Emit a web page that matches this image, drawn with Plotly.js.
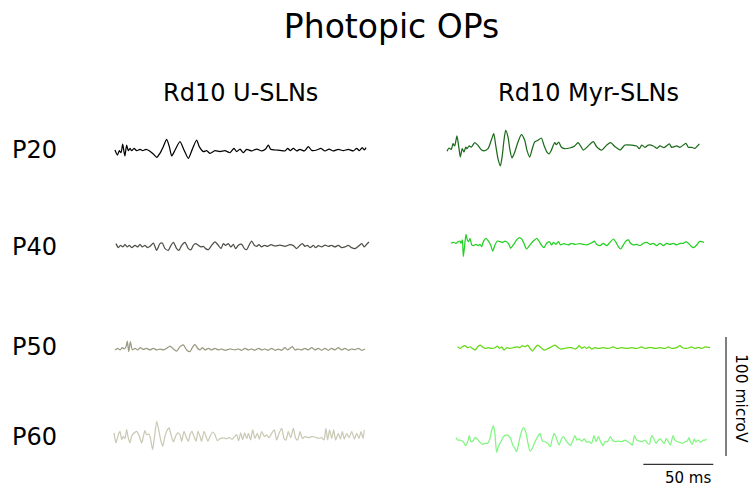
<!DOCTYPE html>
<html>
<head>
<meta charset="utf-8">
<script src="https://cdn.plot.ly/plotly-3.0.1.min.js"></script>
<style>
  html, body { margin: 0; padding: 0; background: #ffffff; }
  #chart { width: 753px; height: 487px; }
</style>
</head>
<body>
<div id="chart"></div>
<script>
// Oscillatory potentials: [time (ms), amplitude (microV)] for each age and treatment group.
const groupNames = ['Rd10 U-SLNs', 'Rd10 Myr-SLNs'];
const ageLabels = ['P20', 'P40', 'P50', 'P60'];

const uslnP20 = [[0,0],[1.7,-4.2],[3.1,-0.6],[4.3,-2.3],[5.5,5.0],[6.4,-1.4],[7.1,-5.0],[8.3,4.2],[9.5,-0.6],[10.7,1.4],[11.9,-0.6],[13.6,1.4],[15.5,-0.6],[17.9,0.6],[19.8,-0.6],[22.1,0.6],[24.5,-0.6],[27.4,-3.4],[29.8,-6.2],[32.1,-2.8],[34.5,2.8],[36.9,9.0],[38.8,2.8],[40.5,-5.0],[42.9,0],[46.4,7.0],[49.3,0],[52.4,-7.0],[55.5,1.4],[58.3,8.4],[60.2,2.8],[63.1,-1.4],[65.5,-0.6],[67.9,-2.8],[71.4,-0.6],[75,-1.4],[78.6,-0.6],[82.1,-2.3],[85,1.4],[86.9,-1.4],[89.3,0.8],[91.6,-2.3],[94,0.6],[97.6,-0.8],[101.2,0.8],[104.8,-0.8],[107.6,0.8],[109.5,4.2],[111.2,0.6],[114.3,0],[117.9,-0.3],[121.4,-0.8],[123.4,1.4],[125.2,-0.6],[127.4,1.4],[129.8,-0.8],[132.1,0.6],[135.2,-0.8],[138.1,2.8],[140.5,-0.3],[144.1,0],[147.1,1.4],[150,-0.8],[152.9,0.8],[155.9,-0.8],[159.5,0.6],[163.1,-0.6],[166.6,0.6],[170.2,-0.8],[172.6,1.4],[174.5,-0.6],[176.6,2.0],[178.1,0],[179.3,2.0]];

const uslnP40 = [[0,2.0],[1.7,-1.4],[3.3,0.6],[4.8,-0.8],[6.4,1.1],[8.1,-0.8],[9.5,0.6],[11.2,-1.4],[13.6,0.6],[15.5,-0.8],[17.1,1.4],[18.8,-0.8],[20.7,0.6],[22.6,-1.4],[24.3,-0.3],[26.7,2.5],[29.0,-3.6],[31.4,2.0],[33.1,2.5],[35.0,-2.2],[37.4,-3.6],[39.3,0.6],[41.0,3.1],[43.3,-2.2],[45.0,-3.6],[46.9,0.6],[49.3,3.1],[51.7,-2.2],[53.6,-3.1],[55.2,0.6],[56.9,2.0],[58.8,0.6],[60.7,-0.8],[62.4,-0.3],[64.0,-2.2],[66.0,-3.1],[68.3,0.6],[70.7,3.4],[73.1,0.6],[75.0,-2.2],[76.7,2.0],[78.3,0.6],[80.2,2.0],[82.1,-0.8],[83.8,1.4],[85.5,-2.2],[87.4,0.6],[89.8,1.4],[91.7,-2.2],[93.3,-3.1],[95.0,0.6],[96.9,4.2],[98.8,0.6],[100.5,-0.3],[102.1,1.1],[104.0,-0.8],[106.0,0.6],[108.3,-0.3],[110.7,1.1],[113.6,0],[117.1,0.8],[120.7,-0.3],[124.3,1.1],[126.7,0.3],[129.0,-2.2],[131.4,0.6],[133.1,2.0],[135.0,-0.3],[136.7,0.6],[138.6,-1.4],[141.0,0.6],[142.6,-1.4],[144.5,0.3],[146.9,-0.8],[149.3,0.8],[151.7,-0.3],[154.0,0.6],[156.4,-0.8],[158.8,0.6],[161.2,-1.4],[163.6,-0.8],[166.0,0.6],[168.3,-1.4],[170.7,-2.2],[173.1,-0.3],[175.5,2.0],[177.4,-0.8],[179.0,1.4],[180.7,3.4]];

const uslnP50 = [[0,-0.8],[1.9,0.6],[3.6,-0.8],[5.2,1.1],[6.7,0],[7.9,2.0],[8.8,6.7],[9.8,-2.2],[11.0,6.2],[12.4,-0.8],[14.3,0.6],[16.2,-0.8],[17.9,1.1],[20.2,-0.3],[22.6,0.6],[25.0,-0.8],[27.4,0.6],[29.8,-0.8],[32.1,0],[34.5,-0.8],[36.9,0.6],[39.3,2.5],[41.7,0],[44.0,-1.7],[46.4,2.0],[48.8,3.4],[51.2,-0.8],[53.6,-2.2],[55.2,1.1],[57.1,3.9],[59.0,0.6],[60.7,-0.8],[62.4,1.1],[64.3,-0.8],[66.7,0.6],[69.0,-0.8],[71.4,0.6],[73.8,-0.8],[76.2,0],[78.6,-1.1],[82.1,0],[85.7,-0.8],[88.1,0],[90.5,-1.1],[92.9,0.6],[95.2,-0.8],[97.6,0],[100.0,-1.1],[102.4,0.6],[104.8,-0.8],[107.1,0],[109.5,-1.1],[111.9,0.6],[114.3,-1.1],[116.7,0],[119.0,-1.1],[121.4,1.1],[123.3,-0.8],[125.0,0.6],[126.7,2.0],[128.6,-0.8],[131.0,0],[133.3,-0.8],[135.7,0.6],[138.1,-0.8],[140.5,1.1],[142.9,-0.8],[145.2,0.6],[147.6,-1.1],[150.0,0.6],[152.4,-1.1],[154.8,0.6],[157.1,-0.8],[159.5,1.1],[161.9,-0.8],[164.3,0.6],[166.7,-1.1],[169.0,0],[171.4,-0.6],[173.8,0.6],[176.2,-1.1],[178.6,0]];

const uslnP60 = [[0,3.4],[1.4,-5.0],[3.1,2.0],[4.3,4.8],[5.5,-2.2],[6.7,0.6],[7.9,-1.4],[9.0,6.2],[10.2,-0.8],[11.4,-5.0],[12.6,0.6],[14.3,3.4],[16.2,4.8],[18.1,0.6],[19.8,-5.0],[21.0,0.6],[22.1,5.3],[23.3,2.0],[25.0,2.5],[26.2,-2.2],[27.6,-10.6],[28.8,-0.8],[30.5,13.2],[31.9,6.2],[33.3,-2.2],[34.8,-7.8],[36.4,0.6],[37.6,4.8],[39.3,7.6],[40.7,2.0],[42.4,-4.2],[44.0,0.6],[45.5,3.4],[47.1,2.0],[48.3,-3.6],[50.0,4.8],[51.4,0.6],[53.1,-3.6],[54.3,2.0],[55.7,4.8],[57.1,0.6],[58.6,-3.6],[60.0,4.8],[61.4,0.6],[62.6,-3.6],[64.3,4.8],[65.7,0.6],[67.1,-3.6],[68.6,0.6],[70.5,4.2],[72.1,2.0],[73.8,-3.1],[75.7,-1.4],[78.1,-0.8],[80.5,-1.4],[82.4,-0.3],[84.3,-2.0],[85.7,-0.3],[87.6,2.0],[89.0,-3.1],[90.5,3.4],[91.9,-2.2],[93.3,3.4],[94.8,-1.4],[96.0,3.1],[97.6,-2.5],[99.0,5.9],[100.7,-1.1],[102.4,3.1],[103.8,-1.7],[105.5,4.5],[107.4,0.3],[109.0,1.7],[110.7,-0.6],[112.6,3.1],[114.5,5.9],[116.2,-2.5],[117.9,3.1],[119.8,7.3],[121.4,-1.1],[122.9,-2.5],[124.5,4.5],[126.2,-0.6],[128.1,7.3],[129.8,-1.1],[131.2,-2.5],[132.9,4.5],[134.5,-1.1],[136.4,0.3],[138.8,-0.6],[141.2,0.3],[143.6,0],[146.0,-1.1],[148.3,-0.6],[150.0,-2.5],[151.4,7.3],[152.6,-2.5],[154.0,5.9],[155.5,-1.1],[156.9,5.9],[158.3,-2.5],[160.2,3.1],[161.7,-1.7],[163.1,4.5],[164.5,-1.7],[166.2,3.1],[167.9,-0.6],[169.8,4.5],[171.7,-1.7],[173.3,3.1],[175.0,-1.1],[176.4,4.5],[177.9,-1.1],[178.8,5.9]];

const myrP20 = [[0,-2.8],[1.4,0],[3.1,-1.1],[4.3,3.6],[5.5,1.7],[7.1,10.1],[8.6,-0.6],[9.5,-7.6],[10.9,-0.6],[12.1,-3.4],[13.4,0.8],[14.3,-0.6],[15.7,1.7],[17.4,0.8],[19.8,4.5],[22.1,2.2],[24.5,-1.4],[26.9,-2.3],[29.3,-0.6],[31.6,6.5],[33.4,12.0],[34.8,2.2],[36.4,-9.0],[38.1,-15.1],[39.5,-6.2],[40.7,6.5],[41.9,14.9],[43.6,9.2],[44.8,-0.6],[46.4,-8.4],[48.4,-3.4],[50.7,5.0],[53.1,11.2],[55.5,6.5],[57.1,-2.0],[59.1,-7.6],[60.9,-0.6],[62.6,5.0],[65,6.5],[67.4,8.4],[69.3,2.2],[71.4,-3.4],[72.9,-5.0],[74.5,-2.0],[76.9,4.5],[78.1,2.8],[79.8,5.0],[81.6,0.8],[84.1,-0.6],[87.6,0],[91.2,1.7],[93.6,4.5],[95.2,2.2],[97.4,-1.7],[104.5,5.3],[106.9,1.1],[110.5,-1.7],[114.1,2.5],[116.9,4.5],[120,1.1],[123.6,-1.7],[127.1,2.5],[131.9,2.5],[135.5,1.7],[137.4,-0.6],[139.1,2.5],[141.4,0.6],[143.8,2.5],[147.4,1.7],[149.8,-0.3],[152.1,1.7],[155,0.3],[158.8,3.4],[160.5,0.6],[164.1,1.7],[166.4,0.6],[170.7,3.9],[172.4,0.6],[174.8,0.6],[177.1,-0.3],[180.2,3.4]];

const myrP40 = [[0,0.6],[1.7,1.4],[3.6,0.6],[5.2,2.0],[6.4,2.5],[7.1,0.6],[8.1,3.4],[8.8,-10.6],[9.8,-0.8],[10.7,8.1],[11.7,3.4],[12.6,2.0],[13.6,4.8],[14.8,-0.8],[16.0,-1.4],[17.9,-0.3],[19.5,-1.4],[20.7,-0.3],[21.9,-2.2],[23.1,2.0],[25.0,4.8],[26.7,2.5],[28.3,-0.8],[29.8,-5.9],[31.4,-0.8],[33.1,2.5],[35.0,2.0],[36.9,1.4],[38.6,2.5],[41.0,0.6],[42.6,-3.6],[44.5,-0.8],[46.9,3.4],[48.8,5.3],[50.5,4.2],[52.1,0.6],[54.0,-4.2],[56.4,-0.8],[58.8,2.5],[61.2,4.8],[63.1,2.0],[64.8,-1.4],[66.4,-3.1],[68.3,0.6],[70.2,2.0],[71.9,-0.8],[73.1,1.4],[75.0,-0.3],[76.7,2.0],[78.3,-0.8],[80.7,0.3],[83.8,-0.8],[86.2,0.6],[88.6,-0.3],[92.1,0.3],[94.5,-0.3],[96.9,-0.8],[99.3,0.3],[101.2,1.4],[102.4,2.5],[104.0,-0.3],[106.4,-1.4],[108.8,0.6],[111.2,-1.4],[113.6,1.4],[116.0,4.2],[117.9,1.4],[119.5,-2.2],[121.2,-4.2],[123.1,-0.8],[125.0,2.5],[126.7,3.4],[128.3,0.6],[130.2,-0.8],[132.6,-0.3],[135.0,-1.4],[137.4,0.6],[139.8,1.4],[142.1,-0.3],[144.5,0.6],[146.9,-1.4],[149.3,0.6],[151.7,-1.4],[154.0,0.6],[156.4,-0.3],[158.8,0.6],[161.2,-0.8],[163.6,0.6],[166.0,0.6],[167.9,2.0],[169.5,0.6],[171.2,-1.4],[173.1,-3.1],[175.5,-0.8],[177.4,2.0],[179.0,2.0],[180.7,1.4]];

const myrP50 = [[0,0.8],[1.7,-0.6],[3.3,0.8],[5.2,1.7],[7.1,0],[8.8,0.8],[10.5,-0.6],[12.4,-2.0],[14.3,0.8],[16.0,2.2],[17.6,0.8],[19.5,-0.6],[21.9,0],[24.3,-0.6],[26.7,0],[28.3,1.4],[29.8,-0.6],[31.4,0.8],[33.1,-2.0],[35.0,0],[37.4,-0.6],[39.8,0],[42.1,0.8],[44.5,0],[46.2,1.7],[48.1,0.8],[50.0,2.2],[51.7,-0.6],[53.3,-2.8],[55.2,0],[57.1,2.2],[58.8,0.8],[60.5,-1.1],[62.4,-2.0],[64.8,-0.6],[67.1,0.8],[69.5,2.2],[71.9,0],[73.8,-1.1],[76.2,-0.6],[79.0,0],[81.4,0],[83.8,-1.1],[85.5,0],[86.7,1.7],[88.6,-0.6],[90.5,0.8],[92.1,-0.6],[93.8,0.6],[95.7,-1.1],[98.1,0],[100.5,-0.6],[104.0,0],[107.6,-0.6],[111.2,0.6],[113.6,-0.6],[117.1,0],[120.7,-0.6],[124.3,0],[127.9,-0.6],[131.4,0.6],[133.8,-0.6],[137.4,0.3],[141.0,-0.6],[144.5,0],[148.1,-0.6],[150.5,0.6],[152.9,-0.6],[156.4,0],[158.8,1.7],[160.5,0],[163.6,-0.6],[167.1,0.6],[169.5,-0.6],[171.9,0.3],[174.3,-0.6],[176.7,0.6],[180.2,0]];

const myrP60 = [[0,2.8],[1.2,0.8],[2.9,0.8],[5.2,-0.6],[6.9,-3.9],[8.3,-0.6],[9.5,4.5],[10.7,-0.6],[12.1,0],[13.6,2.8],[15.2,1.7],[17.1,-1.1],[18.8,-2.8],[20.7,-2.0],[22.6,-2.0],[24.3,2.2],[25.5,9.2],[26.7,12.9],[27.9,5.0],[29.0,-9.5],[30.2,-4.8],[32.1,-0.6],[33.8,3.6],[35.5,5.0],[37.4,4.5],[39.0,2.2],[40.5,-3.4],[42.1,-6.2],[43.3,-9.0],[45.0,-0.6],[46.4,6.4],[48.1,11.2],[49.8,7.8],[51.2,-0.6],[52.9,-8.4],[54.5,-6.2],[56.4,-0.6],[58.3,3.6],[60.0,6.4],[61.7,0],[63.6,-0.6],[65.5,-2.0],[67.4,-4.8],[68.8,2.2],[70.2,6.4],[71.9,1.7],[73.6,-3.4],[75.5,2.2],[76.7,3.6],[78.3,0.8],[80.2,-2.0],[81.7,-3.9],[83.1,-0.6],[85.0,4.5],[86.4,0.8],[87.9,1.7],[89.8,0],[91.7,1.7],[93.3,-1.1],[95.0,-0.6],[96.9,-2.0],[98.6,4.5],[100.0,-0.6],[101.7,3.6],[103.3,-0.6],[105.0,-3.9],[106.4,-0.6],[108.3,-0.6],[110.2,3.6],[111.7,0.8],[113.6,-0.6],[116.0,0],[118.3,-0.6],[120.7,0.8],[122.6,-0.6],[124.5,-2.0],[126.0,-3.4],[127.4,4.5],[129.0,0.8],[130.7,0],[132.6,-0.6],[135.0,0.8],[136.9,-2.0],[138.1,-2.8],[139.8,4.5],[141.4,1.7],[142.9,-2.0],[144.5,0.8],[146.2,1.7],[147.4,-0.6],[148.8,-2.0],[150.2,2.2],[151.7,-0.6],[153.1,-3.4],[155.0,4.5],[156.4,0.8],[158.3,-0.6],[160.0,-1.1],[161.7,-2.0],[163.6,-0.6],[165.2,0],[166.4,2.8],[167.6,-1.1],[168.8,-2.8],[170.2,1.7],[171.2,-0.6],[173.1,0.8],[174.8,-1.1],[176.7,0.8],[178.3,0.8],[179.0,1.7]];

// Calibration bars
const SCALE_MS = 50;
const SCALE_UV = 100;

// Figure geometry: 1.4 px per ms horizontally, 1.19 px per microV vertically.
const W = 753, H = 487;
const PX_PER_MS = 1.4, PX_PER_UV = 1.19;
const msAt = px => px / PX_PER_MS;
const uvAt = py => -py / PX_PER_UV;

// Sweep placement: [data, left edge px, baseline px, colour]
const sweeps = [
  [uslnP20, 115, 150, '#000000'],
  [uslnP40, 116, 246, '#4f4f46'],
  [uslnP50, 115, 349, '#9a9a80'],
  [uslnP60, 114, 437, '#c9c9b5'],
  [myrP20, 447, 148, '#1b6b1b'],
  [myrP40, 451, 244, '#22d022'],
  [myrP50, 457.7, 347.7, '#62d812'],
  [myrP60, 456, 441, '#80f680']
];

const traces = sweeps.map(([pts, x0, y0, color]) => ({
  type: 'scatter',
  mode: 'lines',
  x: pts.map(p => msAt(x0) + p[0]),
  y: pts.map(p => uvAt(y0) + p[1]),
  line: { color: color, width: 1.25, shape: 'spline', smoothing: 0.6 },
  hoverinfo: 'skip',
  showlegend: false
}));

const font = 'DejaVu Sans, sans-serif';
const ann = (text, px, py, size, extra) => Object.assign({
  text: text, xref: 'paper', yref: 'paper',
  x: px / W, y: 1 - py / H, xanchor: 'center', yanchor: 'middle',
  showarrow: false, font: { family: font, size: size, color: '#000' }
}, extra || {});

const rowY = [150, 247, 347, 437];
const annotations = [
  ann(groupNames[0], 240, 93, 24),
  ann(groupNames[1], 588, 93, 24),
  ...ageLabels.map((lab, i) => ann(lab, 34.5, rowY[i], 24)),
  ann(SCALE_MS + ' ms', 687.5, 477.5, 15),
  ann(SCALE_UV + ' microV', 741, 398, 15.5, { textangle: 90 })
];

// Calibration bars drawn in data units
const barX = msAt(726), barTop = uvAt(337);
const barY = uvAt(464.3), barLeft = msAt(643.3);
const shapes = [
  { type: 'line', xref: 'x', yref: 'y', x0: barX, x1: barX, y0: barTop, y1: barTop - SCALE_UV,
    line: { color: '#000', width: 1 } },
  { type: 'line', xref: 'x', yref: 'y', x0: barLeft, x1: barLeft + SCALE_MS, y0: barY, y1: barY,
    line: { color: '#000', width: 1 } }
];

const layout = {
  width: W, height: H,
  margin: { l: 0, r: 0, t: 0, b: 0 },
  paper_bgcolor: '#fff', plot_bgcolor: '#fff',
  title: { text: 'Photopic OPs', x: 391.5 / W, xanchor: 'center', y: 1 - 26 / H, yanchor: 'middle',
           font: { family: font, size: 33, color: '#000' } },
  xaxis: { range: [0, msAt(W)], visible: false, fixedrange: true },
  yaxis: { range: [uvAt(H), 0], visible: false, fixedrange: true },
  annotations: annotations,
  shapes: shapes
};

Plotly.newPlot('chart', traces, layout, { staticPlot: true, displayModeBar: false });
</script>
</body>
</html>
